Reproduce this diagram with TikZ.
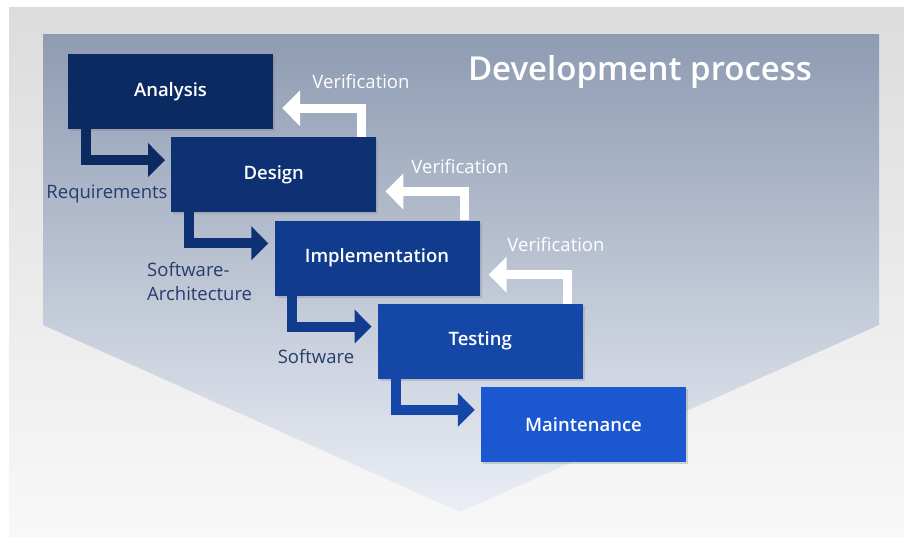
\documentclass[tikz,border=0pt]{standalone}
\usepackage{fontspec}
\setmainfont{Open Sans}[BoldFont={Open Sans Semibold}]
\usetikzlibrary{
  arrows.meta,
  shadows,
  }
\definecolor{bgtop}{HTML}{DCDCDC}
\definecolor{bgbot}{HTML}{F8F8F8}
\definecolor{funneltop}{HTML}{8E9BB2}
\definecolor{funnelbot}{HTML}{EBEEF5}
\definecolor{stageA}{HTML}{0C2A62}
\definecolor{stageB}{HTML}{0E3174}
\definecolor{stageC}{HTML}{113C8E}
\definecolor{stageD}{HTML}{1447A7}
\definecolor{stageE}{HTML}{1A57D0}
\definecolor{notecol}{HTML}{273D6E}

\begin{document}
\begin{tikzpicture}
                [x=1pt, y=-1pt,
                 stage/.style={rectangle, minimum width=205pt, minimum height=75pt,
                   inner sep=0pt, text=white, font=\fontsize{18.5}{22}\selectfont\bfseries,
                   drop shadow={shadow xshift=2pt, shadow yshift=-2pt, opacity=.3}},
                 flow/.style={line width=10pt, -{Triangle[width=33pt, length=17pt]}},
                 verif/.style={white, line width=9pt, -{Triangle[width=35pt, length=18pt]}},
                 note/.style={text=notecol, inner sep=0pt, font=\fontsize{18.5}{24}\selectfont},
                 vlabel/.style={text=white, inner sep=0pt, font=\fontsize{18.5}{22}\selectfont}]
                \useasboundingbox (0,0) rectangle (904,536);
                \fill[white] (0,0) rectangle (904,536);
                \shade[top color=bgtop, bottom color=bgbot] (9,7) rectangle (904,536);
                \shade[top color=funneltop, bottom color=funnelbot]
                    (43,34) -- (879,34) -- (879,325) -- (460,512) -- (43,325) -- cycle;

                \node[text=white, inner sep=0pt, font=\fontsize{33}{38}\selectfont\bfseries]
                    (title) at (640,72) {Development process};

                \node[stage, fill=stageA] (analysis) at (170.5, 91.5) {Analysis};
                \node[stage, fill=stageB] (design)   at (273.75, 174.75) {Design};
                \node[stage, fill=stageC] (impl)     at (377, 258) {Implementation};
                \node[stage, fill=stageD] (testing)  at (480.25, 341.25) {Testing};
                \node[stage, fill=stageE] (maint)    at (583.5, 424.5) {Maintenance};

                \foreach \from/\to/\col in {analysis/design/stageA, design/impl/stageB,
                                            impl/testing/stageC, testing/maint/stageD}
                    \draw[flow, \col] ([xshift=18pt]\from.south west)
                        |- ([xshift=-6pt, yshift=-23pt]\to.north west);

                \foreach \from/\to in {design/analysis, impl/design, testing/impl}
                    \draw[verif] ([xshift=-15pt]\from.north east)
                        |- ([xshift=9pt, yshift=21pt]\to.south east);

                \node[vlabel] (v1) at (361, 82)  {Verification};
                \node[vlabel] (v2) at (460, 167) {Verification};
                \node[vlabel] (v3) at (556, 245) {Verification};

                \node[note] (req) at (107, 194) {Requirements};
                \node[note, align=left, anchor=north west] (arch) at (147, 262)
                    {Software-\\Architecture};
                \node[note] (soft) at (316, 357) {Software};
            \end{tikzpicture}
\end{document}
